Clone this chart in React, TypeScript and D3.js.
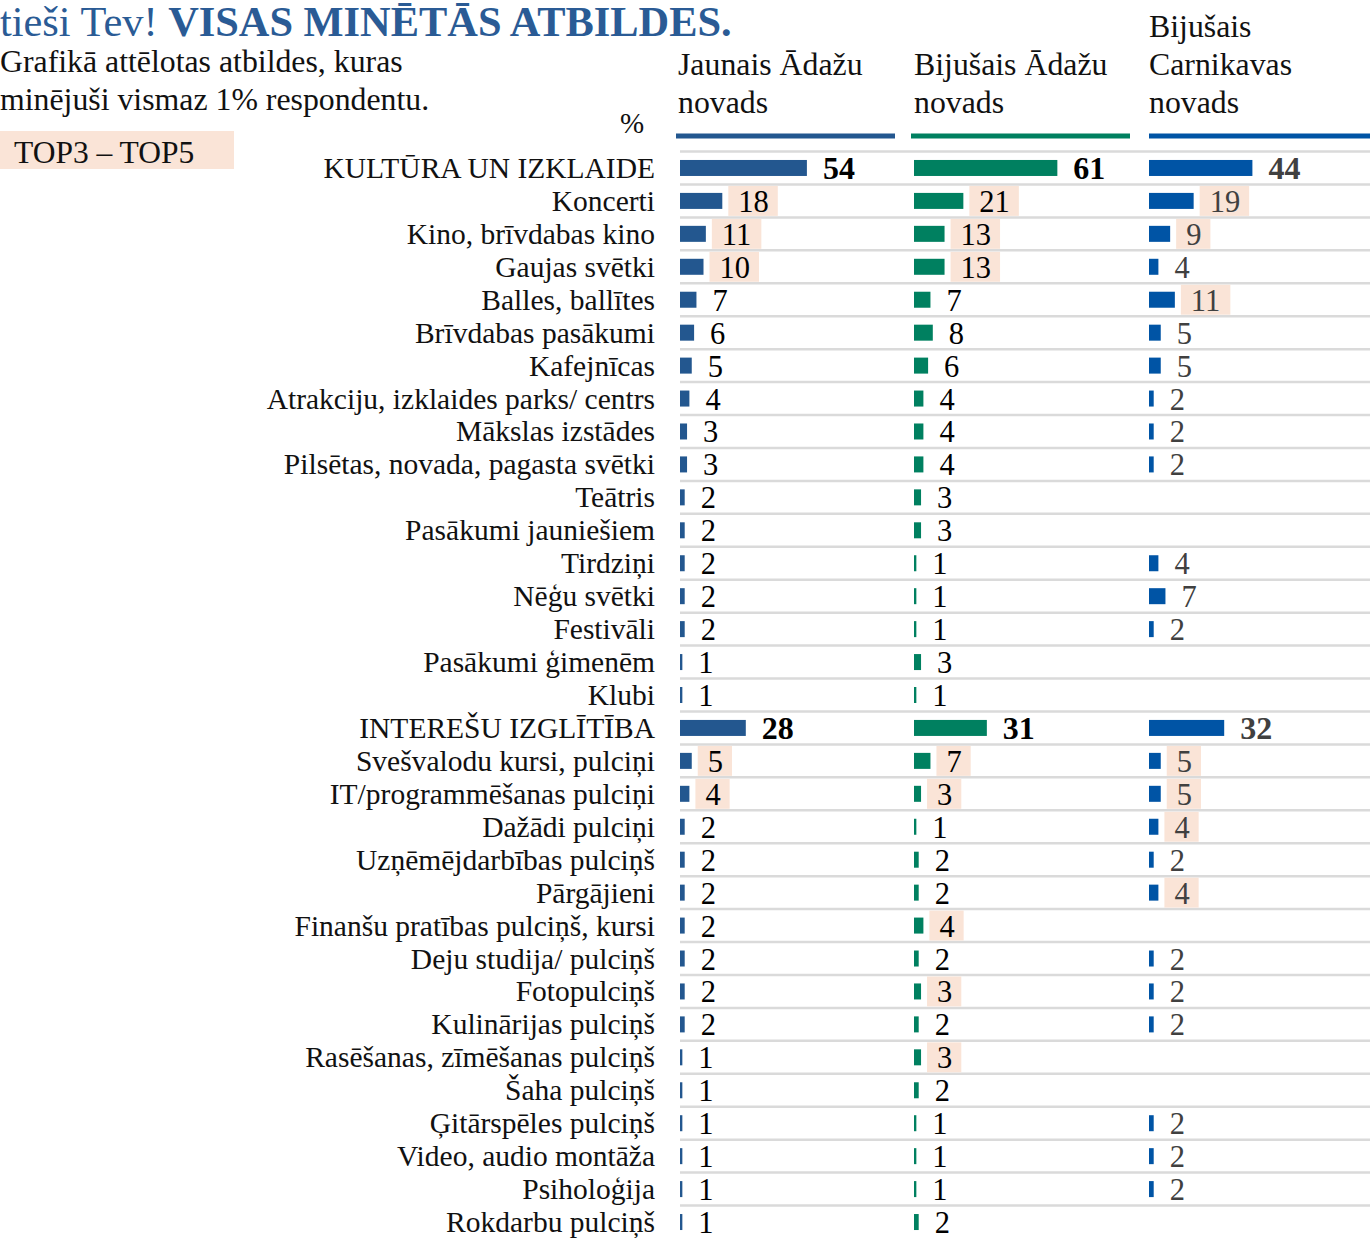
import React from 'react'
import * as d3 from 'd3'

const labels = [
  'KULTŪRA UN IZKLAIDE',
  'Koncerti',
  'Kino, brīvdabas kino',
  'Gaujas svētki',
  'Balles, ballītes',
  'Brīvdabas pasākumi',
  'Kafejnīcas',
  'Atrakciju, izklaides parks/ centrs',
  'Mākslas izstādes',
  'Pilsētas, novada, pagasta svētki',
  'Teātris',
  'Pasākumi jauniešiem',
  'Tirdziņi',
  'Nēģu svētki',
  'Festivāli',
  'Pasākumi ģimenēm',
  'Klubi',
  'INTEREŠU IZGLĪTĪBA',
  'Svešvalodu kursi, pulciņi',
  'IT/programmēšanas pulciņi',
  'Dažādi pulciņi',
  'Uzņēmējdarbības pulciņš',
  'Pārgājieni',
  'Finanšu pratības pulciņš, kursi',
  'Deju studija/ pulciņš',
  'Fotopulciņš',
  'Kulinārijas pulciņš',
  'Rasēšanas, zīmēšanas pulciņš',
  'Šaha pulciņš',
  'Ģitārspēles pulciņš',
  'Video, audio montāža',
  'Psiholoģija',
  'Rokdarbu pulciņš',
]

const sections = ['KULTŪRA UN IZKLAIDE', 'INTEREŠU IZGLĪTĪBA']

// % of respondents, null = not mentioned
const jaunaisAdazu = [54, 18, 11, 10, 7, 6, 5, 4, 3, 3, 2, 2, 2, 2, 2, 1, 1,
  28, 5, 4, 2, 2, 2, 2, 2, 2, 2, 1, 1, 1, 1, 1, 1]
const bijusaisAdazu = [61, 21, 13, 13, 7, 8, 6, 4, 4, 4, 3, 3, 1, 1, 1, 3, 1,
  31, 7, 3, 1, 2, 2, 4, 2, 3, 2, 3, 2, 1, 1, 1, 2]
const bijusaisCarnikava = [44, 19, 9, 4, 11, 5, 5, 2, 2, 2, null, null, 4, 7, 2, null, null,
  32, 5, 5, 4, 2, 4, null, 2, 2, 2, null, null, 2, 2, 2, null]

// TOP3 – TOP5 rows per column
const topJaunais = ['Koncerti', 'Kino, brīvdabas kino', 'Gaujas svētki',
  'Svešvalodu kursi, pulciņi', 'IT/programmēšanas pulciņi']
const topBijusaisAdazu = ['Koncerti', 'Kino, brīvdabas kino', 'Gaujas svētki',
  'Svešvalodu kursi, pulciņi', 'IT/programmēšanas pulciņi', 'Finanšu pratības pulciņš, kursi',
  'Fotopulciņš', 'Rasēšanas, zīmēšanas pulciņš']
const topCarnikava = ['Koncerti', 'Kino, brīvdabas kino', 'Balles, ballītes',
  'Svešvalodu kursi, pulciņi', 'IT/programmēšanas pulciņi', 'Dažādi pulciņi', 'Pārgājieni']

const columns = [
  { name: ['', 'Jaunais Ādažu', 'novads'], values: jaunaisAdazu, top: topJaunais,
    color: '#23578f', text: '#000', x0: 680, lineX: [676, 895] },
  { name: ['', 'Bijušais Ādažu', 'novads'], values: bijusaisAdazu, top: topBijusaisAdazu,
    color: '#008060', text: '#000', x0: 914, lineX: [911, 1130] },
  { name: ['Bijušais', 'Carnikavas', 'novads'], values: bijusaisCarnikava, top: topCarnikava,
    color: '#0054a5', text: '#404040', x0: 1149, lineX: [1149, 1370] },
]

const W = 1370
const H = 1238
const FONT = '"Liberation Serif", "Times New Roman", serif'
const PEACH = '#fae4d7'

export default function App() {
  const x = d3.scaleLinear().domain([0, 100]).range([0, 235])
  const y = d3.scaleBand().domain(labels).range([151.5, 1238.5])
  const bw = y.bandwidth()
  const barH = 16
  const valSize = 30.5

  return (
    <svg width={W} height={H} style={{ position: 'absolute', left: 0, top: 0, display: 'block' }}
      fontFamily={FONT}>
      <rect width={W} height={H} fill="#fff" />
      {/* title */}
      <text x={0} y={36} fontSize={42.4} fill="#2a5b95">
        tieši Tev! <tspan fontWeight="bold">VISAS MINĒTĀS ATBILDES.</tspan>
      </text>
      <text x={0} y={72} fontSize={31.8} fill="#111">Grafikā attēlotas atbildes, kuras</text>
      <text x={0} y={110} fontSize={31.8} fill="#111">minējuši vismaz 1% respondentu.</text>
      <rect x={0} y={131} width={234} height={38} fill={PEACH} />
      <text x={14} y={163} fontSize={31.5} fill="#111">TOP3 – TOP5</text>
      <text x={632} y={133} fontSize={29} textAnchor="middle" fill="#111">%</text>

      {/* column headers */}
      {columns.map((c, ci) => (
        <g key={'h' + ci}>
          {c.name.map((t, li) => (
            <text key={li} x={c.x0 === 680 ? 678 : c.x0} y={37 + li * 38} fontSize={31.8} fill="#111">{t}</text>
          ))}
          <line x1={c.lineX[0]} x2={c.lineX[1]} y1={136} y2={136} stroke={c.color} strokeWidth={5} />
        </g>
      ))}

      {/* row separators */}
      {labels.map(l => (
        <line key={'s' + l} x1={680} x2={W} y1={y(l)!} y2={y(l)!} stroke="#dadada" strokeWidth={2.5} />
      ))}

      {/* row labels */}
      {labels.map(l => (
        <text key={'l' + l} x={655} y={y(l)! + bw / 2 + 10} fontSize={29.5} textAnchor="end" fill="#111">{l}</text>
      ))}

      {/* bars and values */}
      {columns.map((c, ci) => (
        <g key={'c' + ci}>
          {labels.map((l, i) => {
            const v = c.values[i]
            if (v == null) return null
            const cy = y(l)! + bw / 2
            const bold = sections.includes(l)
            const isTop = c.top.includes(l)
            const end = c.x0 + x(v)
            const tx = end + 16
            const size = bold ? 32 : valSize
            const tw = String(v).length * size * 0.5
            return (
              <g key={l}>
                {isTop && (
                  <rect x={tx - 10} y={y(l)! + 1.5} width={tw + 19} height={bw - 3} fill={PEACH} />
                )}
                <rect x={c.x0} y={cy - barH / 2} width={x(v)} height={barH} fill={c.color} />
                <text x={tx} y={cy + 11} fontSize={size} fontWeight={bold ? 'bold' : 'normal'}
                  fill={c.text}>{v}</text>
              </g>
            )
          })}
        </g>
      ))}
    </svg>
  )
}
